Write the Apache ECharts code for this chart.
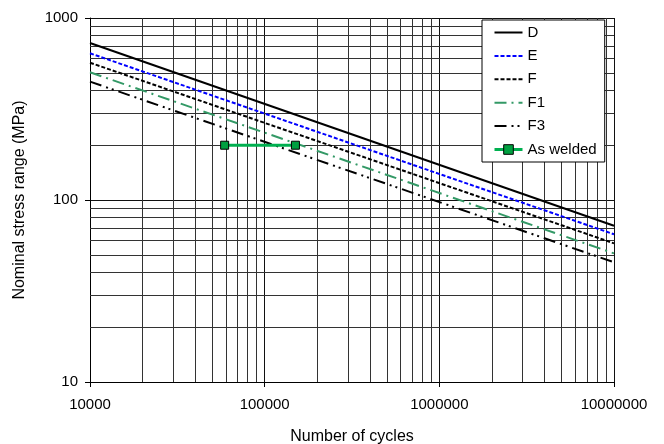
<!DOCTYPE html>
<html>
<head>
<meta charset="utf-8">
<script src="https://cdn.jsdelivr.net/npm/echarts@6/dist/echarts.min.js"></script>
<style>
  html, body { margin: 0; padding: 0; background: #fff; }
  #chart { width: 664px; height: 444px; }
</style>
</head>
<body>
<div id="chart"></div>
<script>
// S-N curves (two end points each, log-log straight lines)
const cycleEnds = [10000, 10000000];
const curveD = [729, 72.2];
const curveE = [640, 64.8];
const curveF = [568, 57.8];
const curveF1 = [503, 50.9];
const curveF3 = [447, 45.5];

// test results
const weldedCycles = [59000, 150000];
const weldedStress = [200, 200];

// minor grid lines
const xMinor = [20000, 30000, 40000, 50000, 60000, 70000, 80000, 90000,
  200000, 300000, 400000, 500000, 600000, 700000, 800000, 900000,
  2000000, 3000000, 4000000, 5000000, 6000000, 7000000, 8000000, 9000000];
const yMinor = [20, 30, 40, 50, 60, 70, 80, 90, 200, 300, 400, 500, 600, 700, 800, 900];

const font = 'Liberation Sans, Arial, sans-serif';

function pairs(xs, ys) {
  var out = [];
  for (var i = 0; i < xs.length; i++) {
    out.push([xs[i], ys[i]]);
  }
  return out;
}

function curve(name, ys, color, type) {
  return {
    name: name,
    type: 'line',
    symbol: 'none',
    z: 6,
    lineStyle: { color: color, width: 2, type: type },
    itemStyle: { color: color },
    data: pairs(cycleEnds, ys)
  };
}

function plainLabel(value) {
  return String(Math.round(value));
}

var gridLines = [];
xMinor.forEach(function (v) { gridLines.push({ xAxis: v }); });
yMinor.forEach(function (v) { gridLines.push({ yAxis: v }); });

// line-only legend entries (hide the symbol)
var noMark = { opacity: 0 };

const chart = echarts.init(document.getElementById('chart'));

chart.setOption({
  animation: false,
  grid: { left: 90, right: 50, top: 18, bottom: 62, outerBoundsMode: 'none' },
  xAxis: {
    type: 'log',
    logBase: 10,
    min: 10000,
    max: 10000000,
    name: 'Number of cycles',
    nameLocation: 'middle',
    nameGap: 47,
    nameTextStyle: { fontFamily: font, fontSize: 16, color: '#000' },
    axisLine: { show: true, lineStyle: { color: '#000', width: 1 } },
    axisTick: { show: true, length: 5, lineStyle: { color: '#000' } },
    axisLabel: { fontFamily: font, fontSize: 15, color: '#000', margin: 15, formatter: plainLabel },
    splitLine: { show: true, lineStyle: { color: '#111', width: 1 } }
  },
  yAxis: {
    type: 'log',
    logBase: 10,
    min: 10,
    max: 1000,
    name: 'Nominal stress range (MPa)',
    nameLocation: 'middle',
    nameGap: 62,
    nameTextStyle: { fontFamily: font, fontSize: 16, color: '#000' },
    axisLine: { show: true, lineStyle: { color: '#000', width: 1 } },
    axisTick: { show: true, length: 5, lineStyle: { color: '#000' } },
    axisLabel: { fontFamily: font, fontSize: 15, color: '#000', margin: 12, formatter: plainLabel },
    splitLine: { show: true, lineStyle: { color: '#111', width: 1 } }
  },
  legend: {
    orient: 'vertical',
    left: 482,
    top: 20,
    padding: [5, 8, 5, 11],
    itemWidth: 28,
    itemHeight: 12,
    itemGap: 8.4,
    backgroundColor: '#fff',
    borderColor: '#000',
    borderWidth: 1,
    borderRadius: 0,
    z: 20,
    textStyle: { fontFamily: font, fontSize: 15, color: '#000' },
    data: [
      { name: 'D', itemStyle: noMark },
      { name: 'E', itemStyle: noMark },
      { name: 'F', itemStyle: noMark },
      { name: 'F1', itemStyle: noMark },
      { name: 'F3', itemStyle: noMark },
      { name: 'As welded', lineStyle: { color: '#00b050', width: 3, opacity: 1 },
        itemStyle: { color: '#00a040', borderColor: '#000', borderWidth: 1, opacity: 1 } }
    ]
  },
  series: [
    {
      name: 'grid',
      type: 'line',
      data: [],
      silent: true,
      z: 1,
      markLine: {
        silent: true,
        z: 1,
        symbol: 'none',
        label: { show: false },
        lineStyle: { color: '#333', width: 1, type: 'solid' },
        data: gridLines
      }
    },
    curve('D', curveD, '#000', 'solid'),
    curve('E', curveE, '#0000ff', [4, 2]),
    curve('F', curveF, '#000', [4, 2]),
    curve('F1', curveF1, '#339966', [12, 5, 2, 5]),
    curve('F3', curveF3, '#000', [12, 5, 2, 4, 2, 5]),
    {
      name: 'As welded',
      type: 'line',
      symbol: 'rect',
      symbolSize: 8,
      z: 8,
      lineStyle: { color: '#00b050', width: 3 },
      itemStyle: { color: '#00a040', borderColor: '#000', borderWidth: 1 },
      data: pairs(weldedCycles, weldedStress)
    }
  ]
});
</script>
</body>
</html>
